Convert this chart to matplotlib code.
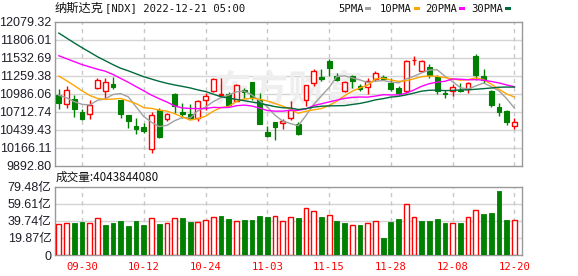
import matplotlib
matplotlib.use('Agg')
import matplotlib.pyplot as plt
import numpy as np

# ---------------- data ----------------
dates = ['09-27', '09-28', '09-29', '09-30', '10-03', '10-04', '10-05', '10-06', '10-07', '10-10',
         '10-11', '10-12', '10-13', '10-14', '10-17', '10-18', '10-19', '10-20', '10-21', '10-24',
         '10-25', '10-26', '10-27', '10-28', '10-31', '11-01', '11-02', '11-03', '11-04', '11-07',
         '11-08', '11-09', '11-10', '11-11', '11-14', '11-15', '11-16', '11-17', '11-18', '11-21',
         '11-22', '11-23', '11-25', '11-28', '11-29', '11-30', '12-01', '12-02', '12-05', '12-06',
         '12-07', '12-08', '12-09', '12-12', '12-13', '12-14', '12-15', '12-16', '12-19', '12-20']

opens = [10964, 10832, 10908, 10710, 10670, 11075, 11035, 11136, 10888, 10660,
         10502, 10477, 10137, 10746, 10594, 10984, 10705, 10670, 10619, 10898,
         11025, 10972, 10984, 10883, 11050, 11167, 10898, 10404, 10558, 10538,
         10615, 10528, 10888, 11151, 11238, 11481, 11263, 11025, 11263, 11101,
         11085, 11212, 11238, 11151, 11075, 11025, 11496, 11329, 11390, 11238,
         10999, 11035, 11050, 11065, 11567, 11263, 11035, 10786, 10730, 10502]
highs = [11060, 11111, 10974, 10761, 10898, 11227, 11227, 11237, 10898, 10665,
         10619, 10543, 10705, 10771, 10695, 10990, 10847, 10837, 10898, 10999,
         11227, 11227, 11014, 11136, 11075, 11170, 10999, 10492, 10562, 10594,
         10870, 10558, 11126, 11364, 11364, 11521, 11303, 11177, 11278, 11136,
         11227, 11339, 11268, 11227, 11101, 11496, 11557, 11506, 11440, 11278,
         11050, 11141, 11151, 11161, 11592, 11364, 11040, 10847, 10735, 10619]
lows = [10761, 10771, 10634, 10590, 10594, 11060, 10923, 11065, 10619, 10467,
        10366, 10391, 10086, 10315, 10578, 10695, 10619, 10594, 10568, 10746,
        11014, 10968, 10796, 10873, 10923, 10898, 10520, 10325, 10279, 10442,
        10590, 10355, 10796, 11101, 11187, 11253, 11187, 11014, 11075, 11025,
        10984, 11177, 11202, 11025, 10964, 10999, 11430, 11319, 11227, 10984,
        10923, 10958, 11014, 10999, 11202, 11151, 10781, 10649, 10517, 10451]
closes = [10847, 11050, 10761, 10594, 10822, 11202, 11161, 11090, 10670, 10568,
          10445, 10420, 10660, 10330, 10670, 10796, 10670, 10619, 10872, 10959,
          11212, 10978, 10812, 11116, 11014, 10923, 10528, 10345, 10482, 10568,
          10735, 10366, 11116, 11329, 11217, 11380, 11202, 11161, 11177, 11065,
          11177, 11303, 11217, 11060, 10999, 11481, 11506, 11481, 11268, 11025,
          10984, 11091, 11025, 11151, 11278, 11202, 10812, 10710, 10552, 10558]
prev_close = 10802  # close of the session before the first bar

# volume in 亿 (1e8)
volumes = [36.1, 36.8, 37.2, 38.4, 36.8, 42.6, 34.9, 37.2, 39.5, 33.7,
           39.5, 34.9, 42.6, 36.1, 36.8, 42.6, 42.6, 38.4, 38.4, 40.7,
           43.8, 45.4, 41.9, 39.5, 40.7, 40.7, 45.4, 44.2, 45.4, 39.5,
           43.8, 43.0, 54.3, 51.2, 44.2, 46.1, 39.5, 37.2, 34.5, 34.9,
           36.8, 39.5, 19.8, 38.4, 41.9, 59.3, 43.8, 39.5, 39.5, 41.9,
           37.2, 37.2, 37.2, 43.8, 52.3, 47.7, 48.9, 74.4, 40.7, 40.43844080]

# moving-average values for bars before a full window exists
ma5_head = [10963, 10925, 10865, 10825]
ma10_head = [11255, 11185, 11110, 11030, 10960, 10915, 10900, 10905, 10915]
ma20_head = [11565, 11520, 11475, 11430, 11395, 11360, 11330, 11280, 11220, 11160,
             11095, 11030, 10965, 10910, 10860, 10800, 10770, 10762, 10760]
ma30_head = [11910, 11835, 11760, 11688, 11620, 11550, 11490, 11430, 11375, 11335,
             11290, 11245, 11210, 11175, 11145, 11120, 11098, 11075, 11045, 11020,
             10980, 10940, 10920, 10900, 10880, 10860, 10840, 10815, 10790]

price_min, price_max = 9892.80, 12079.32
price_tick_labels = ['9892.80', '10166.11', '10439.43', '10712.74', '10986.06',
                     '11259.38', '11532.69', '11806.01', '12079.32']
vol_max = 79.48
vol_ticks = [0, 19.87, 39.74, 59.61, 79.48]
vol_tick_labels = ['0', '19.87亿', '39.74亿', '59.61亿', '79.48亿']
x_label_dates = ['09-30', '10-12', '10-24', '11-03', '11-15', '11-28', '12-08', '12-20']

title_name = '纳斯达克'
title_rest = '[NDX] 2022-12-21 05:00'
ma_names = ['5PMA', '10PMA', '20PMA', '30PMA']
ma_periods = [5, 10, 20, 30]

# ---------------- styles ----------------
UP = '#ff0000'
DOWN = '#008000'
MA_COLORS = ['#a0a0a0', '#ffa500', '#ff00ff', '#006b3c']
GRID = '#d4d4d4'
FRAME = '#999999'

W, H = 578, 276
fig = plt.figure(figsize=(W / 100, H / 100), dpi=100)
fig.patch.set_facecolor('white')


def fx(px):
    return px / W


def fy(py):
    return 1 - py / H


L, R = 55, 522
ax = fig.add_axes([fx(L), fy(165.5), fx(R) - fx(L), fy(22) - fy(165.5)])
ax2 = fig.add_axes([fx(L), fy(255), fx(R) - fx(L), fy(186.5) - fy(255)])

o = np.array(opens, float)
h = np.array(highs, float)
lo = np.array(lows, float)
c = np.array(closes, float)
v = np.array(volumes, float)
n = len(c)
x = np.arange(n)
xl = (-0.5, n - 0.02)
label_idx = [dates.index(d) for d in x_label_dates]

# moving averages
heads = [ma5_head, ma10_head, ma20_head, ma30_head]
mas = []
for p, head in zip(ma_periods, heads):
    arr = np.empty(n)
    arr[:p - 1] = head
    for i in range(p - 1, n):
        arr[i] = c[i - p + 1:i + 1].mean()
    mas.append(arr)

# ---------------- main price panel ----------------
ax.set_xlim(*xl)
ax.set_ylim(price_min, price_max)
ticks = np.linspace(price_min, price_max, len(price_tick_labels))
for t in ticks[1:-1]:
    ax.axhline(t, color=GRID, lw=1, zorder=0)
for i in label_idx:
    ax.axvline(i, color='#c8c8c8', lw=1, ls=(0, (3, 3)), zorder=0)

ax.text(0.5 * (L + R) / W * 0 + 0.5, 0.52, '东方财富', transform=ax.transAxes,
        ha='center', va='center', fontsize=27, color='#eeeeee', fontweight='bold',
        family=['Noto Sans CJK SC'], zorder=0.5)

bw = 0.62
up = c >= o
for i in range(n):
    col = UP if up[i] else DOWN
    ax.vlines(x[i], lo[i], h[i], color=col, lw=1, zorder=2)
    bot = min(o[i], c[i])
    ht = max(abs(c[i] - o[i]), 1.0)
    if up[i]:
        ax.bar(x[i], ht, bottom=bot, width=bw, facecolor='white', edgecolor=col,
               lw=1, zorder=3)
    else:
        ax.bar(x[i], ht, bottom=bot, width=bw, facecolor=col, edgecolor=col,
               lw=0.8, zorder=3)

for arr, col in zip(mas, MA_COLORS):
    ax.plot(x, arr, color=col, lw=1, zorder=4)

ax.set_xticks([])
ax.set_yticks(ticks)
ax.set_yticklabels(price_tick_labels, family='Liberation Sans', fontsize=9, color='#1e1e28')
ax.tick_params(axis='y', length=0, pad=2.5)
for s in ax.spines.values():
    s.set_color(FRAME)
    s.set_linewidth(1)

# ---------------- volume panel ----------------
ax2.set_xlim(*xl)
ax2.set_ylim(0, vol_max)
for t in vol_ticks[1:-1]:
    ax2.axhline(t, color=GRID, lw=1, zorder=0)
for i in label_idx:
    ax2.axvline(i, color='#c8c8c8', lw=1, ls=(0, (3, 3)), zorder=0)

pc = np.concatenate([[prev_close], c[:-1]])
vup = c >= pc
for i in range(n):
    if vup[i]:
        ax2.bar(x[i], v[i], width=bw, facecolor='white', edgecolor=UP, lw=1, zorder=3)
    else:
        ax2.bar(x[i], v[i], width=bw, facecolor=DOWN, edgecolor=DOWN, lw=0.6, zorder=3)

ax2.set_yticks(vol_ticks)
ax2.set_yticklabels(vol_tick_labels, family=['Liberation Sans', 'Noto Sans CJK SC'],
                    fontsize=9, color='#1e1e28')
ax2.set_xticks(label_idx)
ax2.set_xticklabels(x_label_dates, family='DejaVu Sans Mono', fontsize=7.6, color=UP)
ax2.tick_params(axis='y', length=0, pad=2.5)
ax2.tick_params(axis='x', length=0, pad=5)
for s in ax2.spines.values():
    s.set_color(FRAME)
    s.set_linewidth(1)

# ---------------- texts ----------------
fig.text(fx(55), fy(8.5), title_name, family=['Noto Sans CJK SC'], fontsize=8.8,
         ha='left', va='center', color='#111111')
fig.text(fx(105), fy(8.5), title_rest, family='DejaVu Sans Mono', fontsize=7.6,
         ha='left', va='center', color='#111111')

fig.text(fx(56), fy(177.5), '成交量:%d' % round(v[-1] * 1e8),
         family=['Noto Sans CJK SC'], fontsize=8.4, ha='left', va='center', color='#111111')

legend_x = [338, 380, 425.5, 471.5]
for name, col, lx in zip(ma_names, MA_COLORS, legend_x):
    t = fig.text(fx(lx), fy(8.5), name, family='DejaVu Sans Mono', fontsize=7.6,
                 ha='left', va='center', color='#111111')
    mw = len(name) * 6.1 + 3
    fig.patches.append(plt.Rectangle((fx(lx + mw), fy(10.0)), fx(6), fy(0) - fy(3.2),
                                     transform=fig.transFigure, facecolor=col,
                                     edgecolor='none'))

fig.savefig('out.png', dpi=100)
